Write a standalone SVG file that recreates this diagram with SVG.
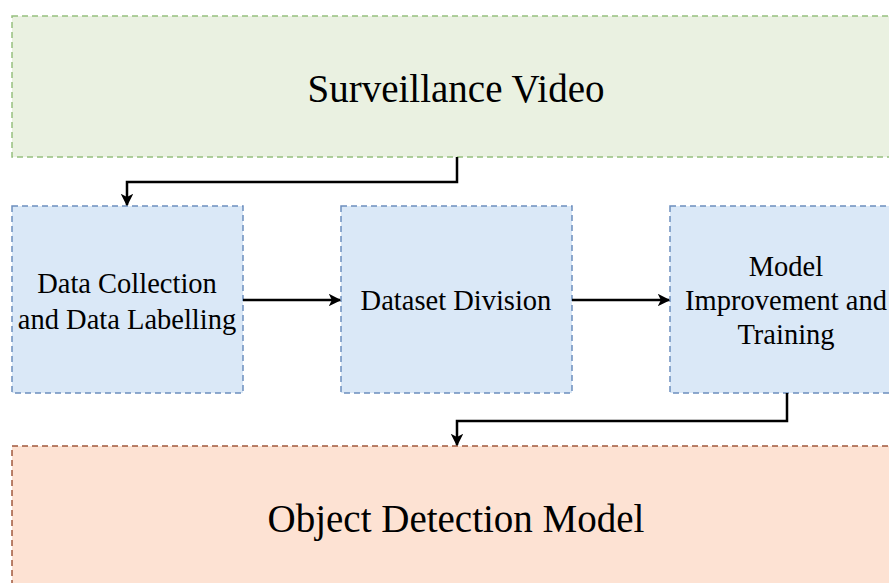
<svg xmlns="http://www.w3.org/2000/svg" width="889" height="583" viewBox="0 0 889 583">
<defs>
<marker id="ah" viewBox="0 0 10 10" refX="9" refY="5" markerWidth="5" markerHeight="5" orient="auto" markerUnits="strokeWidth">
<path d="M0,0 L10,5 L0,10 L2.5,5 z" fill="#000"/>
</marker>
<style>
text{font-family:"Liberation Serif","Times New Roman",serif;fill:#000;text-anchor:middle}
.big{font-size:39px}
.mid{font-size:28.5px}
.g{fill:#eaf1e1;stroke:#97c07f;stroke-width:1.5;stroke-dasharray:6,4}
.b{fill:#dae8f7;stroke:#6c8ebf;stroke-width:1.5;stroke-dasharray:6,4}
.o{fill:#fde2d3;stroke:#a0583c;stroke-width:1.5;stroke-dasharray:6,4}
.c{fill:none;stroke:#000;stroke-width:2.5;marker-end:url(#ah)}
</style>
</defs>
<rect width="889" height="583" fill="#fff"/>
<g id="surveillance">
<rect class="g" x="12" y="16" width="890" height="141"/>
<text class="big" x="456" y="102">Surveillance Video</text>
</g>
<g id="collection">
<rect class="b" x="12" y="206" width="231" height="187"/>
<text class="mid" x="127" y="293">Data Collection</text>
<text class="mid" x="127" y="329">and Data Labelling</text>
</g>
<g id="division">
<rect class="b" x="341" y="206" width="231" height="187"/>
<text class="mid" x="456" y="310">Dataset Division</text>
</g>
<g id="training">
<rect class="b" x="670" y="206" width="231" height="187"/>
<text class="mid" x="786" y="276">Model</text>
<text class="mid" x="786" y="310">Improvement and</text>
<text class="mid" x="786" y="344">Training</text>
</g>
<g id="detection">
<rect class="o" x="12" y="446" width="890" height="150"/>
<text class="big" x="456" y="532">Object Detection Model</text>
</g>
<g id="connectors">
<path class="c" d="M457,157 V182 H127 V205"/>
<path class="c" d="M243,300 H340"/>
<path class="c" d="M572,300 H669"/>
<path class="c" d="M787,393 V421 H457 V445"/>
</g>
</svg>
